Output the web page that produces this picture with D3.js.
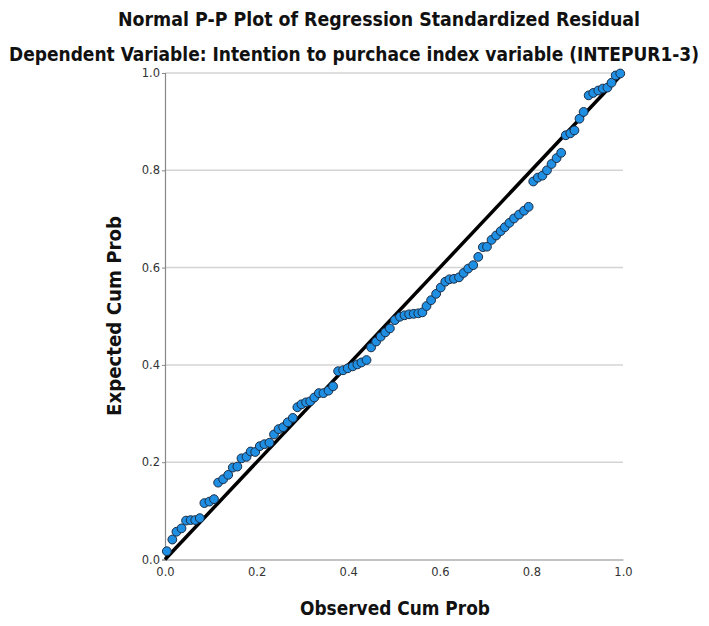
<!DOCTYPE html>
<html>
<head>
<meta charset="utf-8">
<script src="https://cdn.jsdelivr.net/npm/d3@7"></script>
<style>
  body { margin: 0; background: #fff; }
  text { font-family: "DejaVu Sans Condensed", "Liberation Sans", sans-serif; }
</style>
</head>
<body>
<div id="chart"></div>
<script>
// observed cumulative probability (x)
var observed = [0.004, 0.016, 0.025, 0.036, 0.046, 0.056, 0.066, 0.076, 0.086, 0.097,
  0.107, 0.116, 0.127, 0.138, 0.148, 0.158, 0.167, 0.178, 0.187, 0.197,
  0.207, 0.217, 0.228, 0.238, 0.248, 0.258, 0.268, 0.279, 0.289, 0.298,
  0.308, 0.317, 0.326, 0.336, 0.346, 0.357, 0.367, 0.378, 0.389, 0.399,
  0.410, 0.420, 0.429, 0.440, 0.450, 0.461, 0.471, 0.481, 0.491, 0.502,
  0.513, 0.523, 0.533, 0.543, 0.553, 0.562, 0.571, 0.581, 0.592, 0.602,
  0.612, 0.621, 0.631, 0.642, 0.652, 0.662, 0.673, 0.684, 0.694, 0.703,
  0.713, 0.723, 0.733, 0.742, 0.752, 0.762, 0.773, 0.784, 0.794, 0.804,
  0.814, 0.824, 0.834, 0.844, 0.855, 0.865, 0.875, 0.885, 0.894, 0.905,
  0.914, 0.925, 0.935, 0.946, 0.956, 0.966, 0.975, 0.984, 0.994];

// expected cumulative probability (y)
var expected = [0.017, 0.041, 0.057, 0.064, 0.080, 0.081, 0.081, 0.085, 0.116, 0.119,
  0.124, 0.158, 0.165, 0.174, 0.189, 0.191, 0.208, 0.211, 0.222, 0.221,
  0.233, 0.237, 0.240, 0.257, 0.268, 0.272, 0.282, 0.291, 0.313, 0.319,
  0.323, 0.325, 0.333, 0.342, 0.342, 0.347, 0.356, 0.387, 0.389, 0.393,
  0.397, 0.401, 0.405, 0.410, 0.436, 0.448, 0.458, 0.467, 0.475, 0.492,
  0.499, 0.502, 0.504, 0.505, 0.506, 0.508, 0.521, 0.533, 0.546, 0.559,
  0.571, 0.576, 0.577, 0.580, 0.589, 0.598, 0.605, 0.622, 0.642, 0.643,
  0.657, 0.666, 0.675, 0.683, 0.692, 0.701, 0.709, 0.717, 0.725, 0.777,
  0.785, 0.789, 0.800, 0.813, 0.825, 0.836, 0.872, 0.876, 0.882, 0.906,
  0.920, 0.954, 0.959, 0.964, 0.968, 0.970, 0.980, 0.995, 0.999];

var tickValues = [0.0, 0.2, 0.4, 0.6, 0.8, 1.0];
var diagonal = [0, 1];

var titleText = "Normal P-P Plot of Regression Standardized Residual";
var subtitleText = "Dependent Variable: Intention to purchace index variable (INTEPUR1-3)";
var xTitle = "Observed Cum Prob";
var yTitle = "Expected Cum Prob";

var svgWidth = 709;
var svgHeight = 626;

var margin = { top: 73, right: 86, bottom: 66.5, left: 165 };
var width = svgWidth - margin.left - margin.right;
var height = svgHeight - margin.top - margin.bottom;

var svg = d3.select("#chart")
  .append("svg")
  .attr("width", svgWidth)
  .attr("height", svgHeight);

var chartGroup = svg.append("g")
  .attr("transform", `translate(${margin.left}, ${margin.top})`);

var xScale = d3.scaleLinear().domain([0, 1]).range([0, width]);
var yScale = d3.scaleLinear().domain([0, 1]).range([height, 0]);

// horizontal grid lines
chartGroup.append("g")
  .selectAll("line")
  .data(tickValues.filter(d => d > 0))
  .enter().append("line")
  .attr("x1", 0)
  .attr("x2", width)
  .attr("y1", d => yScale(d))
  .attr("y2", d => yScale(d))
  .attr("stroke", "#d4d4d4")
  .attr("stroke-width", 1.5);

// axes
var leftAxis = d3.axisLeft(yScale).tickValues(tickValues).tickFormat(d3.format(".1f")).tickSize(3);
var bottomAxis = d3.axisBottom(xScale).tickValues(tickValues).tickFormat(d3.format(".1f")).tickSize(0);

var yAxisG = chartGroup.append("g").call(leftAxis);
var xAxisG = chartGroup.append("g")
  .attr("transform", `translate(0, ${height})`)
  .call(bottomAxis);

[yAxisG, xAxisG].forEach(function(g) {
  g.select(".domain").attr("stroke", "#888").attr("stroke-width", 1.2);
  g.selectAll(".tick line").attr("stroke", "#888");
  g.selectAll(".tick text")
    .attr("fill", "#333")
    .style("font-family", "'DejaVu Sans', sans-serif")
    .style("font-size", "11.5px");
});
yAxisG.selectAll(".tick text").attr("x", -5).attr("dy", "0.32em");
xAxisG.selectAll(".tick text").attr("y", 8).attr("dy", "0.71em");

// reference diagonal
chartGroup.append("line")
  .attr("x1", xScale(diagonal[0]))
  .attr("y1", yScale(diagonal[0]))
  .attr("x2", xScale(diagonal[1]))
  .attr("y2", yScale(diagonal[1]))
  .attr("stroke", "#000")
  .attr("stroke-width", 3.5);

// points
var points = observed.map((d, i) => ({ x: d, y: expected[i] }));
chartGroup.append("g")
  .selectAll("circle")
  .data(points)
  .enter().append("circle")
  .attr("cx", d => xScale(d.x))
  .attr("cy", d => yScale(d.y))
  .attr("r", 4.4)
  .attr("fill", "#1f8fe3")
  .attr("stroke", "#1b2c44")
  .attr("stroke-width", 1);

// titles
function addTitle(x, y, len, txt, transform) {
  var t = svg.append("text")
    .attr("text-anchor", "middle")
    .attr("textLength", len)
    .attr("lengthAdjust", "spacingAndGlyphs")
    .style("font-size", "19px")
    .style("font-weight", "bold")
    .attr("fill", "#111")
    .text(txt);
  if (transform) t.attr("transform", transform);
  else t.attr("x", x).attr("y", y);
  return t;
}

addTitle(379, 26, 522, titleText);
addTitle(354, 61, 690, subtitleText);
addTitle(395, 615, 190, xTitle);
addTitle(0, 0, 200, yTitle, "translate(121, 316) rotate(-90)");
</script>
</body>
</html>
